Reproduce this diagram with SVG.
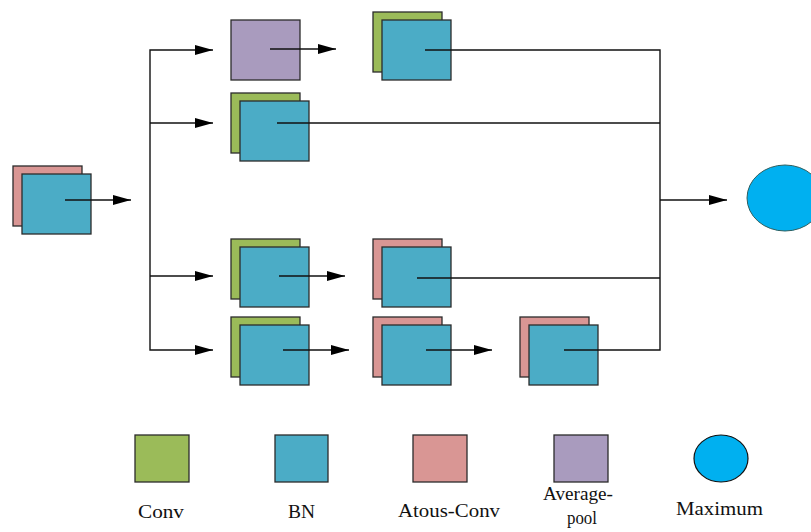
<svg xmlns="http://www.w3.org/2000/svg" width="811" height="532" viewBox="0 0 811 532">
<style>
.b{stroke:#2b2b2b;stroke-width:1.3}
.conv{fill:#9BBB59}
.bn{fill:#4BACC6}
.at{fill:#D99694}
.av{fill:#A99BBE}
.mx{fill:#00B0F0;stroke:#2f5f5f;stroke-width:1}
.ln{fill:none;stroke:#111;stroke-width:1.4}
.t{font-family:"Liberation Serif","DejaVu Serif",serif;font-size:19px;fill:#111}
</style>
<defs>
<marker id="ah" markerWidth="18" markerHeight="10" refX="18" refY="5" orient="auto" markerUnits="userSpaceOnUse">
<path d="M0,0 L18,5 L0,10 Z" fill="#000"/>
</marker>
</defs>
<g id="input">
<rect class="b at" x="13" y="166" width="69" height="60"/>
<rect class="b bn" x="22" y="174" width="69" height="60"/>
</g>
<g id="avgpool">
<rect class="b av" x="231" y="20" width="69" height="60"/>
</g>
<g id="b1-conv">
<rect class="b conv" x="373" y="12" width="69" height="60"/>
<rect class="b bn" x="382" y="20" width="69" height="60"/>
</g>
<g id="b2-conv">
<rect class="b conv" x="231" y="93" width="69" height="60"/>
<rect class="b bn" x="240" y="101" width="69" height="60"/>
</g>
<g id="b3-conv">
<rect class="b conv" x="231" y="239" width="69" height="60"/>
<rect class="b bn" x="240" y="247" width="69" height="60"/>
</g>
<g id="b3-atrous">
<rect class="b at" x="373" y="239" width="69" height="60"/>
<rect class="b bn" x="382" y="247" width="69" height="60"/>
</g>
<g id="b4-conv">
<rect class="b conv" x="231" y="317" width="69" height="60"/>
<rect class="b bn" x="240" y="325" width="69" height="60"/>
</g>
<g id="b4-atrous1">
<rect class="b at" x="373" y="317" width="69" height="60"/>
<rect class="b bn" x="382" y="325" width="69" height="60"/>
</g>
<g id="b4-atrous2">
<rect class="b at" x="520" y="317" width="69" height="60"/>
<rect class="b bn" x="529" y="325" width="69" height="60"/>
</g>
<g id="maximum">
<ellipse class="mx" cx="785" cy="198" rx="38" ry="33"/>
</g>
<g id="connectors">
<line class="ln" x1="65" y1="200" x2="131" y2="200" marker-end="url(#ah)"/>
<polyline class="ln" points="213,50 150,50 150,350 213,350" marker-end="url(#ah)"/>
<path d="M213,50 L195,45 L195,55 Z" fill="#000"/>
<line class="ln" x1="150" y1="123" x2="213" y2="123" marker-end="url(#ah)"/>
<line class="ln" x1="150" y1="276" x2="213" y2="276" marker-end="url(#ah)"/>
<line class="ln" x1="270" y1="49" x2="336" y2="49" marker-end="url(#ah)"/>
<line class="ln" x1="279" y1="276" x2="345" y2="276" marker-end="url(#ah)"/>
<line class="ln" x1="283" y1="350" x2="349" y2="350" marker-end="url(#ah)"/>
<line class="ln" x1="426" y1="350" x2="492" y2="350" marker-end="url(#ah)"/>
<polyline class="ln" points="425,50 660,50 660,350 564,350"/>
<line class="ln" x1="277" y1="123" x2="660" y2="123"/>
<line class="ln" x1="417" y1="278" x2="660" y2="278"/>
<line class="ln" x1="660" y1="200" x2="727" y2="200" marker-end="url(#ah)"/>
</g>
<g id="legend">
<rect class="b conv" x="135" y="435" width="54" height="47"/>
<rect class="b bn" x="275" y="435" width="53" height="47"/>
<rect class="b at" x="413" y="435" width="54" height="47"/>
<rect class="b av" x="554" y="435" width="54" height="47"/>
<ellipse cx="721" cy="458.5" rx="27" ry="23.5" fill="#00B0F0" stroke="#111" stroke-width="1.2"/>
<text class="t" x="138" y="518" textLength="46" lengthAdjust="spacingAndGlyphs">Conv</text>
<text class="t" x="288" y="518" textLength="27" lengthAdjust="spacingAndGlyphs">BN</text>
<text class="t" x="398" y="517" textLength="102" lengthAdjust="spacingAndGlyphs">Atous-Conv</text>
<text class="t" x="543" y="500" textLength="70" lengthAdjust="spacingAndGlyphs">Average-</text>
<text class="t" x="567" y="524" textLength="30" lengthAdjust="spacingAndGlyphs">pool</text>
<text class="t" x="676" y="515" textLength="87" lengthAdjust="spacingAndGlyphs">Maximum</text>
</g>
</svg>
